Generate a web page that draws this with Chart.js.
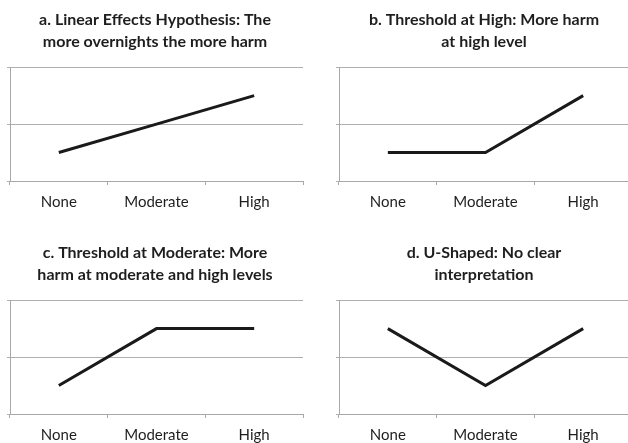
<!DOCTYPE html>
<html>
<head>
<meta charset="utf-8">
<script src="https://cdn.jsdelivr.net/npm/chart.js@4/dist/chart.umd.min.js"></script>
<style>
  html, body { margin: 0; padding: 0; background: #fff; overflow: hidden; }
  #wrap { position: relative; width: 628px; height: 443px; overflow: hidden; }
  .panel { position: absolute; width: 314px; height: 221px; }
</style>
</head>
<body>
<div id="wrap">
  <div class="panel" style="left:0;top:0"><canvas id="chartA"></canvas></div>
  <div class="panel" style="left:329px;top:0"><canvas id="chartB"></canvas></div>
  <div class="panel" style="left:0;top:233px"><canvas id="chartC"></canvas></div>
  <div class="panel" style="left:329px;top:233px"><canvas id="chartD"></canvas></div>
</div>
<script>
// ---------------- Data ----------------
const categories = ["None", "Moderate", "High"];

const linearValues = [1, 2, 3];
const thresholdHighValues = [1, 1, 3];
const thresholdModerateValues = [1, 3, 3];
const uShapedValues = [3, 1, 3];

const yMin = 0;
const yMax = 4;
const yStep = 2;

const titleA = ["a. Linear Effects Hypothesis: The", "more overnights the more harm"];
const titleB = ["b. Threshold at High: More harm", "at high level"];
const titleC = ["c. Threshold at Moderate: More", "harm at moderate and high levels"];
const titleD = ["d. U-Shaped: No clear", "interpretation"];

// ---------------- Chart helper ----------------
function makePanel(id, title, values) {
  const canvas = document.getElementById(id);
  canvas.width = 314;
  canvas.height = 221;
  const ctx = canvas.getContext("2d");
  new Chart(ctx, {
    type: "line",
    data: {
      labels: categories,
      datasets: [{
        data: values,
        borderColor: "#1a1a1a",
        borderWidth: 3,
        pointRadius: 0,
        tension: 0,
        fill: false
      }]
    },
    options: {
      responsive: false,
      animation: false,
      layout: { padding: { left: 7, right: 11, top: 0, bottom: 2 } },
      plugins: {
        legend: { display: false },
        tooltip: { enabled: false },
        title: {
          display: true,
          text: title,
          color: "#1e1e1e",
          font: { family: "Lato, 'Liberation Sans', sans-serif", size: 16, weight: "bold", lineHeight: 1.38 },
          padding: { top: 9, bottom: 14 }
        }
      },
      scales: {
        x: {
          offset: true,
          grid: {
            offset: true,
            drawOnChartArea: false,
            drawTicks: true,
            tickLength: 4,
            color: "#a8a8a8"
          },
          border: { color: "#a8a8a8" },
          ticks: {
            color: "#1e1e1e",
            padding: 8,
            font: { family: "Lato, 'Liberation Sans', sans-serif", size: 15 }
          }
        },
        y: {
          min: yMin,
          max: yMax,
          grid: {
            color: "#b0b0b0",
            tickLength: 3
          },
          border: { color: "#a8a8a8" },
          ticks: { display: false, stepSize: yStep }
        }
      }
    }
  });
}

makePanel("chartA", titleA, linearValues);
makePanel("chartB", titleB, thresholdHighValues);
makePanel("chartC", titleC, thresholdModerateValues);
makePanel("chartD", titleD, uShapedValues);
</script>
</body>
</html>
